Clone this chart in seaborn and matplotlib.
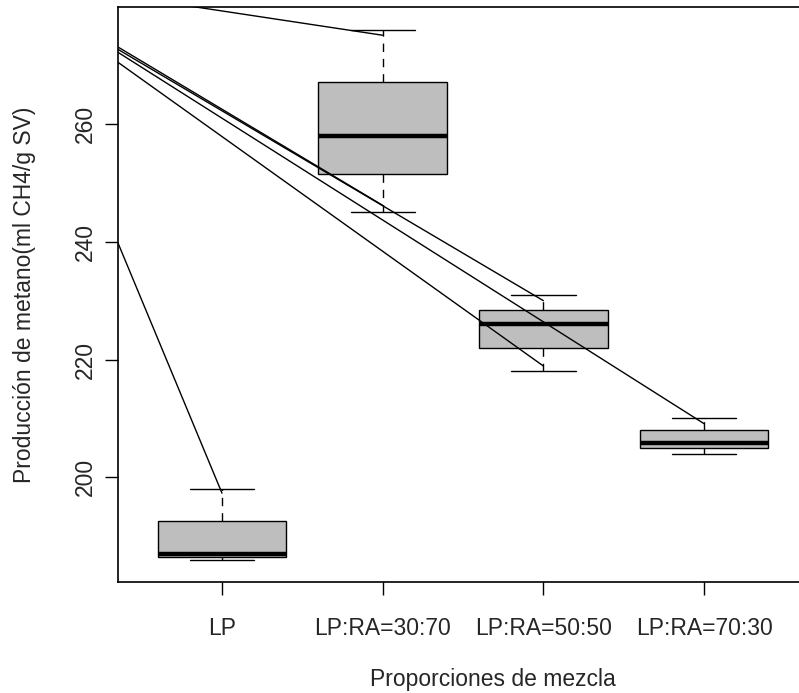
import numpy as np
import pandas as pd
import matplotlib
matplotlib.use("Agg")
import matplotlib.pyplot as plt
import seaborn as sns

# ---- data ----
categories = ["LP", "LP:RA=30:70", "LP:RA=50:50", "LP:RA=70:30"]
lp = [186.0, 186.4, 186.9, 192.6, 198.0]
ra_30_70 = [245.0, 251.5, 258.0, 267.2, 276.0]
ra_50_50 = [218.0, 221.9, 226.1, 228.5, 231.0]
ra_70_30 = [204.0, 204.9, 205.8, 208.0, 210.1]
y_ticks = [200, 220, 240, 260]

# straight annotation lines: start (left, outside the box area) -> end (at a group)
seg_start_x = [-0.647, -0.647, -0.647, -0.647, -0.647, -0.647]
seg_start_y = [239.8, 281.9, 273.1, 272.7, 270.5, 272.2]
seg_end_cat = ["LP", "LP:RA=30:70", "LP:RA=30:70", "LP:RA=50:50", "LP:RA=50:50", "LP:RA=70:30"]
seg_end_y = [197.3, 275.1, 246.2, 230.0, 218.9, 209.1]

x_label = "Proporciones de mezcla"
y_label = "Producción de metano(ml CH4/g SV)"

df = pd.DataFrame({
    "mezcla": sum([[c] * len(v) for c, v in zip(categories, [lp, ra_30_70, ra_50_50, ra_70_30])], []),
    "metano": lp + ra_30_70 + ra_50_50 + ra_70_30,
})

sns.set_style("ticks")
plt.rcParams["font.family"] = ["Liberation Sans", "DejaVu Sans"]

W, H = 799, 693
fig = plt.figure(figsize=(W / 100, H / 100), dpi=100)
left, right, top, bottom = 118, 868, 7, 582
ax = fig.add_axes([left / W, 1 - bottom / H, (right - left) / W, (bottom - top) / H])

sns.boxplot(
    data=df, x="mezcla", y="metano", order=categories, ax=ax,
    color="#BEBEBE", saturation=1, linecolor="black", linewidth=1.0,
    width=0.8, whis=1.5, fliersize=0,
    medianprops=dict(linewidth=3.2, color="black", solid_capstyle="butt"),
    whiskerprops=dict(linestyle=(0, (6, 5)), linewidth=1.0),
    capprops=dict(linewidth=1.0),
)

for x0, y0, cat, y1 in zip(seg_start_x, seg_start_y, seg_end_cat, seg_end_y):
    ax.plot([x0, categories.index(cat)], [y0, y1], color="black", lw=1.0, zorder=5)

ax.set_xlim(-0.647, 4.02)
ax.set_ylim(182.2, 279.9)
ax.set_yticks(y_ticks)
ax.set_xticks(range(len(categories)))
ax.set_xticklabels(categories)

for s in ["left", "bottom", "top", "right"]:
    ax.spines[s].set_visible(True)
    ax.spines[s].set_linewidth(1.2)
    ax.spines[s].set_color("black")

fs = 16.5
ax.tick_params(axis="both", length=9.5, width=1.0, color="black", labelsize=fs)
ax.tick_params(axis="x", pad=16)
ax.tick_params(axis="y", pad=6, labelrotation=90)
for lab in ax.get_yticklabels():
    lab.set_va("center")

ax.set_xlabel(x_label, fontsize=fs, labelpad=20)
ax.set_ylabel(y_label, fontsize=fs, labelpad=27)
ax.grid(False)

fig.savefig("out.png", dpi=100, facecolor="white")
